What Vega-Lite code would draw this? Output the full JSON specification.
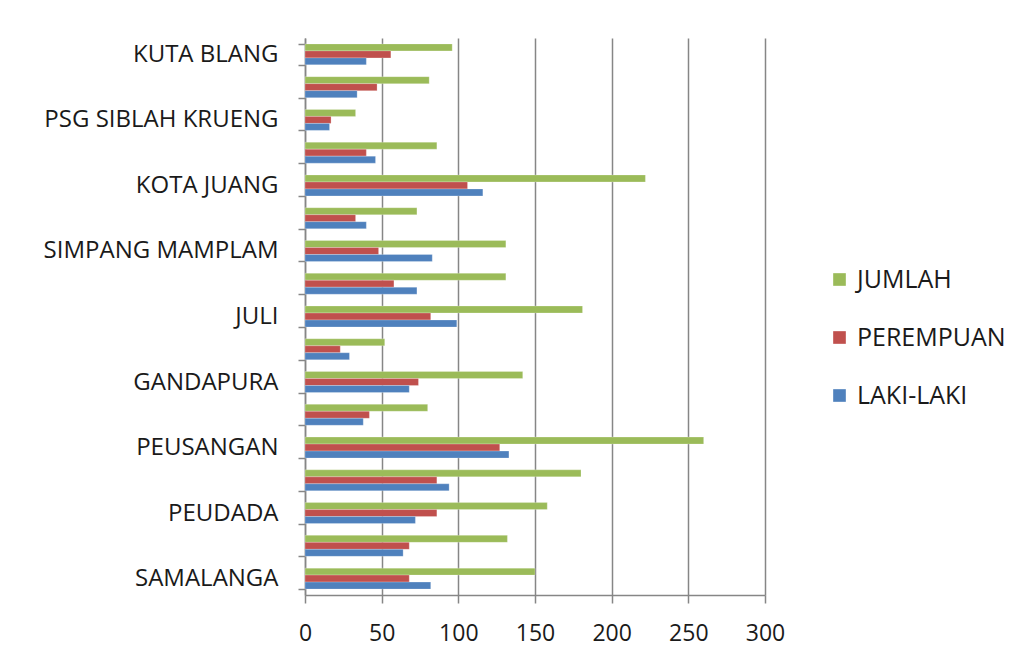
{
  "$schema": "https://vega.github.io/schema/vega-lite/v6.json",
  "autosize": "none",
  "width": 460,
  "height": 557,
  "padding": {"left": 305, "top": 38, "right": 258, "bottom": 72},
  "background": "white",
  "config": {
    "view": {"stroke": null},
    "font": "Open Sans"
  },
  "data": {
    "values": [
      {"kec": "KUTA BLANG", "jenis": "JUMLAH", "nilai": 96},
      {"kec": "KUTA BLANG", "jenis": "PEREMPUAN", "nilai": 56},
      {"kec": "KUTA BLANG", "jenis": "LAKI-LAKI", "nilai": 40},
      {"kec": "MAKMUR", "jenis": "JUMLAH", "nilai": 81},
      {"kec": "MAKMUR", "jenis": "PEREMPUAN", "nilai": 47},
      {"kec": "MAKMUR", "jenis": "LAKI-LAKI", "nilai": 34},
      {"kec": "PSG SIBLAH KRUENG", "jenis": "JUMLAH", "nilai": 33},
      {"kec": "PSG SIBLAH KRUENG", "jenis": "PEREMPUAN", "nilai": 17},
      {"kec": "PSG SIBLAH KRUENG", "jenis": "LAKI-LAKI", "nilai": 16},
      {"kec": "KUALA", "jenis": "JUMLAH", "nilai": 86},
      {"kec": "KUALA", "jenis": "PEREMPUAN", "nilai": 40},
      {"kec": "KUALA", "jenis": "LAKI-LAKI", "nilai": 46},
      {"kec": "KOTA JUANG", "jenis": "JUMLAH", "nilai": 222},
      {"kec": "KOTA JUANG", "jenis": "PEREMPUAN", "nilai": 106},
      {"kec": "KOTA JUANG", "jenis": "LAKI-LAKI", "nilai": 116},
      {"kec": "JEUMPA", "jenis": "JUMLAH", "nilai": 73},
      {"kec": "JEUMPA", "jenis": "PEREMPUAN", "nilai": 33},
      {"kec": "JEUMPA", "jenis": "LAKI-LAKI", "nilai": 40},
      {"kec": "SIMPANG MAMPLAM", "jenis": "JUMLAH", "nilai": 131},
      {"kec": "SIMPANG MAMPLAM", "jenis": "PEREMPUAN", "nilai": 48},
      {"kec": "SIMPANG MAMPLAM", "jenis": "LAKI-LAKI", "nilai": 83},
      {"kec": "PANDRAH", "jenis": "JUMLAH", "nilai": 131},
      {"kec": "PANDRAH", "jenis": "PEREMPUAN", "nilai": 58},
      {"kec": "PANDRAH", "jenis": "LAKI-LAKI", "nilai": 73},
      {"kec": "JULI", "jenis": "JUMLAH", "nilai": 181},
      {"kec": "JULI", "jenis": "PEREMPUAN", "nilai": 82},
      {"kec": "JULI", "jenis": "LAKI-LAKI", "nilai": 99},
      {"kec": "JANGKA", "jenis": "JUMLAH", "nilai": 52},
      {"kec": "JANGKA", "jenis": "PEREMPUAN", "nilai": 23},
      {"kec": "JANGKA", "jenis": "LAKI-LAKI", "nilai": 29},
      {"kec": "GANDAPURA", "jenis": "JUMLAH", "nilai": 142},
      {"kec": "GANDAPURA", "jenis": "PEREMPUAN", "nilai": 74},
      {"kec": "GANDAPURA", "jenis": "LAKI-LAKI", "nilai": 68},
      {"kec": "PEUSANGAN SELATAN", "jenis": "JUMLAH", "nilai": 80},
      {"kec": "PEUSANGAN SELATAN", "jenis": "PEREMPUAN", "nilai": 42},
      {"kec": "PEUSANGAN SELATAN", "jenis": "LAKI-LAKI", "nilai": 38},
      {"kec": "PEUSANGAN", "jenis": "JUMLAH", "nilai": 260},
      {"kec": "PEUSANGAN", "jenis": "PEREMPUAN", "nilai": 127},
      {"kec": "PEUSANGAN", "jenis": "LAKI-LAKI", "nilai": 133},
      {"kec": "JEUNIEB", "jenis": "JUMLAH", "nilai": 180},
      {"kec": "JEUNIEB", "jenis": "PEREMPUAN", "nilai": 86},
      {"kec": "JEUNIEB", "jenis": "LAKI-LAKI", "nilai": 94},
      {"kec": "PEUDADA", "jenis": "JUMLAH", "nilai": 158},
      {"kec": "PEUDADA", "jenis": "PEREMPUAN", "nilai": 86},
      {"kec": "PEUDADA", "jenis": "LAKI-LAKI", "nilai": 72},
      {"kec": "PEULIMBANG", "jenis": "JUMLAH", "nilai": 132},
      {"kec": "PEULIMBANG", "jenis": "PEREMPUAN", "nilai": 68},
      {"kec": "PEULIMBANG", "jenis": "LAKI-LAKI", "nilai": 64},
      {"kec": "SAMALANGA", "jenis": "JUMLAH", "nilai": 150},
      {"kec": "SAMALANGA", "jenis": "PEREMPUAN", "nilai": 68},
      {"kec": "SAMALANGA", "jenis": "LAKI-LAKI", "nilai": 82}
    ]
  },
  "mark": {"type": "bar", "stroke": "white", "strokeWidth": 0.4, "strokeOpacity": 0.6},
  "encoding": {
    "y": {
      "field": "kec",
      "type": "nominal",
      "sort": ["KUTA BLANG", "MAKMUR", "PSG SIBLAH KRUENG", "KUALA", "KOTA JUANG", "JEUMPA", "SIMPANG MAMPLAM", "PANDRAH", "JULI", "JANGKA", "GANDAPURA", "PEUSANGAN SELATAN", "PEUSANGAN", "JEUNIEB", "PEUDADA", "PEULIMBANG", "SAMALANGA"],
      "scale": {"paddingInner": 0.36, "paddingOuter": 0.18},
      "axis": {
        "title": null,
        "tickBand": "extent",
        "labelExpr": "indexof(['KUTA BLANG','PSG SIBLAH KRUENG','KOTA JUANG','SIMPANG MAMPLAM','JULI','GANDAPURA','PEUSANGAN','PEUDADA','SAMALANGA'], datum.value) >= 0 ? datum.value : ''",
        "labelFontSize": 24,
        "labelLimit": 400,
        "labelColor": "#1a1a1a",
        "labelPadding": 20,
        "tickSize": 7,
        "tickColor": "#868686",
        "domainColor": "#868686",
        "domainWidth": 1.5,
        "tickWidth": 1.5,
        "labelOverlap": false
      }
    },
    "yOffset": {
      "field": "jenis",
      "type": "nominal",
      "sort": ["JUMLAH", "PEREMPUAN", "LAKI-LAKI"],
      "scale": {"paddingInner": 0, "paddingOuter": 0}
    },
    "x": {
      "field": "nilai",
      "type": "quantitative",
      "scale": {"domain": [0, 300], "nice": false},
      "axis": {
        "title": null,
        "values": [0, 50, 100, 150, 200, 250, 300],
        "labelFlush": false,
        "labelFontSize": 23,
        "labelColor": "#1a1a1a",
        "labelPadding": 19,
        "tickSize": 8,
        "tickColor": "#868686",
        "tickWidth": 1.5,
        "domainColor": "#868686",
        "domainWidth": 1.5,
        "grid": true,
        "gridColor": "#868686",
        "gridWidth": 1.5
      }
    },
    "color": {
      "field": "jenis",
      "type": "nominal",
      "sort": ["JUMLAH", "PEREMPUAN", "LAKI-LAKI"],
      "scale": {"domain": ["JUMLAH", "PEREMPUAN", "LAKI-LAKI"], "range": ["#9BBB59", "#C0504D", "#4F81BD"]},
      "legend": {
        "title": null,
        "orient": "none",
        "legendX": 522,
        "legendY": 229,
        "symbolType": "square",
        "symbolSize": 160,
        "symbolStrokeWidth": 0,
        "labelFontSize": 25,
        "labelColor": "#1a1a1a",
        "labelOffset": 5,
        "rowPadding": 32
      }
    }
  }
}
